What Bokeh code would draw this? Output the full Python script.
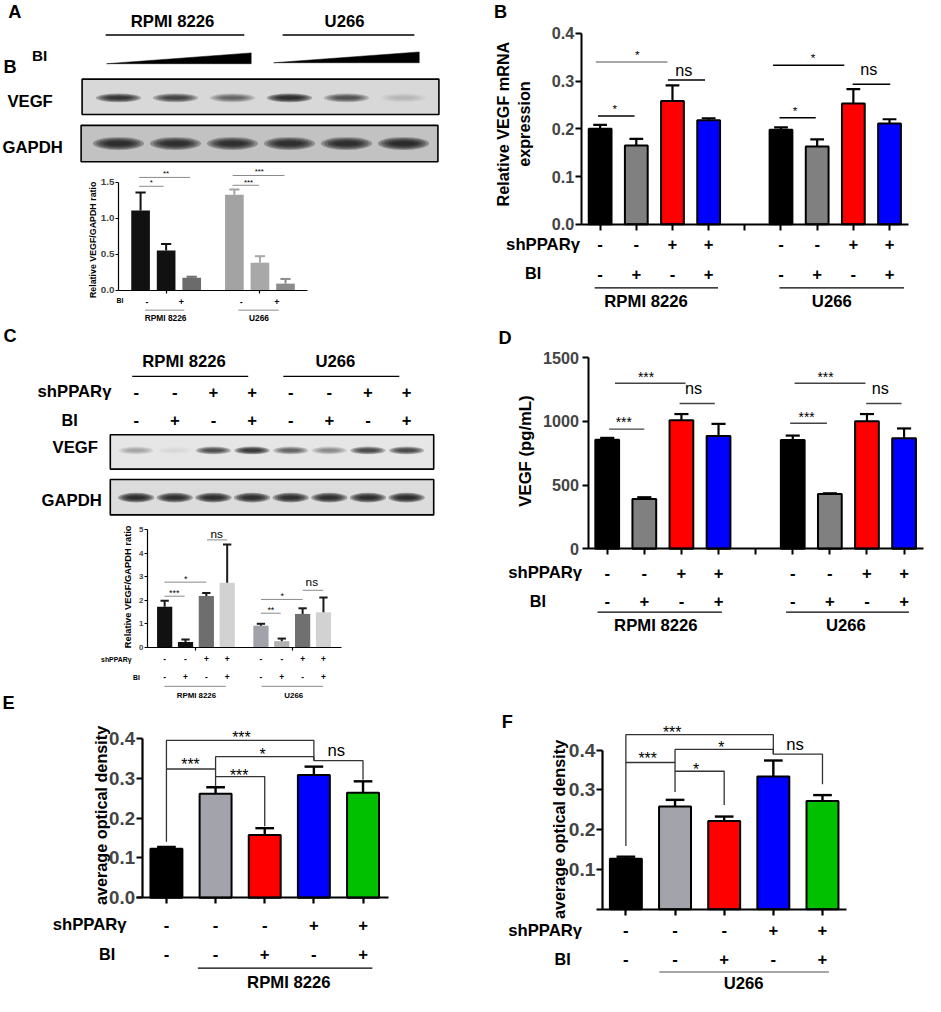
import math
from bokeh.plotting import figure
from bokeh.models import Range1d, LinearAxis, FixedTicker, PrintfTickFormatter
from bokeh.core.properties import value
from bokeh.embed import file_html
from bokeh.resources import INLINE

# ---------------- data ----------------
cell_lines = ["RPMI 8226", "U266"]

# Panel A: western blot band intensities (0 none .. 1 saturated), BI dose increasing
A_vegf_band = [0.85, 0.72, 0.45, 0.95, 0.60, 0.10]
A_gapdh_band = [0.92, 0.90, 0.88, 0.90, 0.90, 0.95]
# Panel A: densitometry VEGF/GAPDH
A_ratio_mean = [1.11, 0.555, 0.177, 1.33, 0.386, 0.095]
A_ratio_sd = [0.25, 0.09, 0.013, 0.07, 0.09, 0.065]
A_bi_signs = ["-", "+", "-", "+"]

# Conditions for panels B, C, D (per cell line)
sh_signs = ["-", "-", "+", "+"]
bi_signs = ["-", "+", "-", "+"]

# Panel B: relative VEGF mRNA
B_mrna_mean = [0.200, 0.165, 0.258, 0.218, 0.198, 0.163, 0.253, 0.211]
B_mrna_sd = [0.008, 0.014, 0.033, 0.004, 0.005, 0.015, 0.030, 0.009]

# Panel C: blot band intensities and densitometry
C_vegf_band = [0.20, 0.04, 0.65, 0.85, 0.50, 0.30, 0.70, 0.70]
C_gapdh_band = [0.95, 0.92, 0.95, 0.92, 0.92, 0.92, 0.95, 0.95]
C_ratio_mean = [1.72, 0.21, 2.17, 2.74, 0.91, 0.25, 1.41, 1.48]
C_ratio_sd = [0.25, 0.11, 0.13, 1.63, 0.08, 0.11, 0.24, 0.63]

# Panel D: VEGF ELISA (pg/mL)
D_elisa_mean = [856, 391, 1008, 885, 854, 430, 1001, 867]
D_elisa_sd = [14, 13, 49, 95, 34, 5, 56, 77]

# Panels E, F: average optical density
EF_sh_signs = ["-", "-", "-", "+", "+"]
EF_bi_signs = ["-", "-", "+", "-", "+"]
E_od_mean = [0.123, 0.262, 0.158, 0.309, 0.264]
E_od_sd = [0.005, 0.016, 0.017, 0.021, 0.029]
F_od_mean = [0.127, 0.258, 0.222, 0.334, 0.272]
F_od_sd = [0.005, 0.017, 0.011, 0.040, 0.015]

# significance annotations: (x_from, x_to, y) in chart units
B_sig = [(-0.12, 1.86, 0.340, "#888888"), (1.875, 2.9, 0.302, "black"), (-0.06, 0.95, 0.227, "black"),
         (4.78, 6.75, 0.333, "black"), (6.98, 8.02, 0.293, "black"), (4.96, 5.96, 0.223, "black")]
D_sig = [(0.21, 2.11, 1299), (1.95, 2.9, 1140), (0.05, 1.0, 939),
         (5.05, 6.96, 1299), (6.98, 7.93, 1140), (4.93, 5.92, 985)]
A_sig = [(-0.06, 0.9, 1.446), (-0.06, 1.94, 1.569), (3.6, 4.63, 1.46), (3.6, 5.63, 1.596)]
C_sig = [(-0.01, 0.96, 2.166), (-0.01, 2.0, 2.765), (2.03, 3.0, 4.566),
         (4.62, 5.57, 1.441), (4.62, 6.62, 2.028), (6.62, 7.61, 2.417)]
# brackets: (bar_i, bar_j, y_top, y_left_end, y_right_end)
E_br = [(0, 3, 0.396, 0.141, 0.345), (1, 3, 0.355, 0.281, 0.345), (0, 1, 0.324, 0.324, 0.324),
        (1, 2, 0.305, 0.305, 0.180), (3, 4, 0.345, 0.345, 0.297)]
F_br = [(0, 3, 0.439, 0.159, 0.390), (1, 3, 0.402, 0.295, 0.390), (0, 1, 0.369, 0.369, 0.369),
        (1, 2, 0.347, 0.347, 0.262), (3, 4, 0.390, 0.390, 0.314)]

# ---------------- layout ----------------
S = 925 / 941
W, H = 925, 995
W_REF, H_REF = W / S, H / S
FONT = "Liberation Sans"

CH = {
    "a": dict(px0=142.5, kx=26.0, py0=295.0, ky=73.3),
    "b": dict(px0=610.0, kx=36.8, py0=227.7, ky=486.0),
    "c": dict(px0=167.0, kx=21.2, py0=657.7, ky=23.87),
    "d": dict(px0=617.2, kx=37.75, py0=557.7, ky=0.1296),
    "e": dict(px0=168.8, kx=50.0, py0=912.7, ky=404.0),
    "f": dict(px0=636.2, kx=50.0, py0=924.4, ky=404.4),
}
YLOC = {"a": 120.0, "b": 590.7, "c": 149.3, "d": 597.7, "e": 144.0, "f": 612.3}


def sx(ch, px):
    return (px - CH[ch]["px0"]) / CH[ch]["kx"]


extra_x, extra_y = {}, {}
for k, c in CH.items():
    extra_x[k + "x"] = Range1d((0 - c["px0"]) / c["kx"], (W_REF - c["px0"]) / c["kx"])
    extra_y[k + "y"] = Range1d((c["py0"] - H_REF) / c["ky"], c["py0"] / c["ky"])

p = figure(width=W, height=H, x_range=Range1d(0, W_REF), y_range=Range1d(H_REF, 0),
           x_axis_type=None, y_axis_type=None, toolbar_location=None, output_backend="svg",
           min_border=0, outline_line_color=None, extra_x_ranges=extra_x, extra_y_ranges=extra_y)
p.background_fill_color = "white"
p.border_fill_color = "white"


def T(x, y, s, size, bold=True, align="center", angle=0.0, color="black", xr="default", kind="cap"):
    xs = list(x) if isinstance(x, (list, tuple)) else [x]
    ys = list(y) if isinstance(y, (list, tuple)) else [y] * len(xs)
    ss = list(s) if isinstance(s, (list, tuple)) else [s] * len(xs)
    adj = {"cap": 0.0, "star": 0.22, "ns": -0.07}[kind]
    ys = [v + adj * size for v in ys]
    p.text(x=xs, y=ys, text=ss, text_font=value(FONT), text_font_size=value(f"{size * S:.2f}px"),
           text_font_style="bold" if bold else "normal", text_align=align, text_baseline="middle",
           angle=angle, text_color=color, x_range_name=xr)


def blot(box, lanes, y, intens, bw, bh, fill):
    l, r, t, b = box
    p.quad(left=[l], right=[r], top=[t], bottom=[b], fill_color=fill, line_color="black", line_width=1.6)
    for k in range(5):
        p.ellipse(x=lanes, y=[y] * len(lanes), width=bw * (1 - 0.13 * k), height=bh * (1 - 0.17 * k),
                  fill_color="#141414", fill_alpha=[0.34 * v for v in intens], line_color=None)


def bars(ch, xs, means, sds, colors, width, outline, lw, err_color, cap, err_lw):
    xr, yr = ch + "x", ch + "y"
    p.vbar(x=xs, top=means, bottom=0, width=width, fill_color=colors, line_color=outline,
           line_width=lw, x_range_name=xr, y_range_name=yr)
    tops = [m + s for m, s in zip(means, sds)]
    p.segment(x0=xs, y0=means, x1=xs, y1=tops, line_color=err_color, line_width=err_lw,
              x_range_name=xr, y_range_name=yr)
    p.segment(x0=[x - cap for x in xs], y0=tops, x1=[x + cap for x in xs], y1=tops,
              line_color=err_color, line_width=err_lw, x_range_name=xr, y_range_name=yr)


def axes(ch, ytop, yticks, fmt, xb, xticks, fs, lw, tick, standoff):
    xr, yr = ch + "x", ch + "y"
    common = dict(x_range_name=xr, y_range_name=yr, axis_line_width=lw, major_tick_line_width=lw,
                  major_tick_out=int(round(tick)), major_tick_in=0, minor_tick_out=0, minor_tick_in=0,
                  axis_line_color="black", major_tick_line_color="black")
    ya = LinearAxis(fixed_location=sx(ch, YLOC[ch]),
                    bounds=(0, ytop), ticker=FixedTicker(ticks=yticks, minor_ticks=[]),
                    formatter=PrintfTickFormatter(format=fmt), major_label_text_font=FONT,
                    major_label_text_font_style="bold", major_label_text_font_size=f"{fs * S:.2f}px",
                    major_label_standoff=int(standoff), **common)
    p.add_layout(ya, "left")
    xa = LinearAxis(fixed_location=0, bounds=(sx(ch, xb[0]), sx(ch, xb[1])),
                    ticker=FixedTicker(ticks=xticks, minor_ticks=[]),
                    major_label_text_color=None, **common)
    p.add_layout(xa, "below")


def sig_lines(ch, specs, color, lw):
    xr, yr = ch + "x", ch + "y"
    p.segment(x0=[s[0] for s in specs], y0=[s[2] for s in specs], x1=[s[1] for s in specs],
              y1=[s[2] for s in specs], line_color=color, line_width=lw, x_range_name=xr, y_range_name=yr)


def brackets(ch, specs, color, lw):
    xr, yr = ch + "x", ch + "y"
    xs = [[i, i, j, j] for i, j, _, _, _ in specs]
    ys = [[yl, yt, yt, yr_] for _, _, yt, yl, yr_ in specs]
    p.multi_line(xs=xs, ys=ys, line_color=color, line_width=lw, x_range_name=xr, y_range_name=yr)


def under(xr, segs, y, color, lw):
    p.segment(x0=[a for a, b in segs], y0=[y] * len(segs), x1=[b for a, b in segs], y1=[y] * len(segs),
              line_color=color, line_width=lw, x_range_name=xr)


# ======== Panel A (blot) ========
T(8, 11.5, "A", 18.5, align="left")
T([175, 350], 21, cell_lines, 17)
p.segment(x0=[107, 287], y0=[35, 35], x1=[248, 421], y1=[35, 35], line_color="black", line_width=1.5)
T(32, 56, "BI", 15.5, align="left")
T(3, 67.5, "B", 18.5, align="left")
p.patches(xs=[[108, 255, 255], [278, 426, 426]], ys=[[64.3, 53.3, 64.3], [63.3, 52.3, 63.3]],
          fill_color="black", line_color="black", line_width=0.5)
T(7, 102.5, "VEGF", 17, align="left")
T(2, 150, "GAPDH", 17, align="left")
laneA = [120 + 58 * i for i in range(6)]
blot((83, 446, 80, 116), laneA, 99, A_vegf_band, 46, 9, "#d8d8d8")
blot((82, 445, 127, 164), laneA, 145.5, A_gapdh_band, 52, 13, "#c2c2c2")

# ======== Panel A (densitometry) ========
xa_pos = [g * 3.67 + i for g in range(2) for i in range(3)]
colA = ["#111111", "#111111", "#6b6b6b", "#a3a3a3", "#a8a8a8", "#8c8c8c"]
bars("a", xa_pos, A_ratio_mean, A_ratio_sd, colA, 0.73, None, 0, colA, 0.2, 2)
axes("a", 1.5, [0, 0.5, 1.0, 1.5], "%.1f", (120, 312), [1.0, 4.67], 10, 1.2, 3, 1)
sig_lines("a", A_sig, "#8a8a8a", 1)
T([153.3, 168.3, 252.3, 263.3], [183.3, 174, 183.3, 172.7], ["*", "**", "***", "***"], 8, bold=False, kind="star")
T(94, 243.5, "Relative VEGF/GAPDH ratio", 9, angle=math.pi / 2)
T(121.5, 305, "BI", 7)
T([149, 184, 245, 281], 307, A_bi_signs, 9)
under("default", [(147, 187), (242, 283)], 315, "#8a8a8a", 1)
T([168, 263], 323.5, cell_lines, 8.5)

# ======== Panel B ========
T(502, 11.5, "B", 18.5, align="left")
xb_pos = [g * 5 + i for g in range(2) for i in range(4)]
colB = ["#000000", "#808080", "#ff0000", "#0000ff"] * 2
bars("b", xb_pos, B_mrna_mean, B_mrna_sd, colB, 0.63, "black", 2, "black", 0.19, 2.2)
axes("b", 0.4, [0, 0.1, 0.2, 0.3, 0.4], "%.1f", (590.7, 924), list(range(9)), 16.5, 2, 5.5, 1)
for x0, x1, yv, colr in B_sig:
    sig_lines("b", [(x0, x1, yv)], colr, 1.5)
T([647.7, 625, 826.7, 808.3], [53, 108, 56, 110], "*", 12, bold=False, kind="star")
T([695, 883.3], [71.7, 71.3], "ns", 16.5, bold=False, kind="ns")
T(511.3, 125.7, "Relative VEGF mRNA", 16.5, angle=math.pi / 2)
T(533, 125.7, "expression", 16.5, angle=math.pi / 2)
T(589.5, 248, "shPPARγ", 17, align="right")
T(xb_pos, 248, sh_signs * 2, 17, xr="bx")
T(550, 277.7, "BI", 16.5, align="right")
T(xb_pos, 278, bi_signs * 2, 17, xr="bx")
under("bx", [(-0.15, 3.26), (4.96, 8.4)], 292.3, "black", 1.3)
T([sx("b", 656.7), sx("b", 845.7)], 306.7, cell_lines, 17, xr="bx")

# ======== Panel C (blot) ========
T(3, 341.7, "C", 18.5, align="left")
T([186.7, 340.7], 367.7, cell_lines, 17)
p.segment(x0=[134, 287.7], y0=[382.3, 382.3], x1=[252, 405.7], y1=[382.3, 382.3], line_color="black", line_width=1.3)
laneC = [138 + 39.3 * i for i in range(8)]
T(37.7, 397.7, "shPPARγ", 17, align="left")
T(laneC, 398, sh_signs * 2, 17)
T(62, 426.7, "BI", 16.5, align="left")
T(laneC, 426.7, bi_signs * 2, 17)
T(53, 455, "VEGF", 17, align="left")
T(41.7, 509, "GAPDH", 17, align="left")
blot((111.7, 440.7, 441.7, 476.7), laneC, 457.7, C_vegf_band, 36, 8, "#e6e6e6")
blot((111.7, 440.7, 487.3, 523.3), laneC, 505.7, C_gapdh_band, 37, 10, "#dcdcdc")

# ======== Panel C (densitometry) ========
xc_pos = [g * 4.62 + i for g in range(2) for i in range(4)]
colC = ["#111111", "#111111", "#6e6e6e", "#d2d2d2", "#a2a2aa", "#b2b2b2", "#707070", "#d2d2d2"]
bars("c", xc_pos, C_ratio_mean, C_ratio_sd, colC, 0.73, None, 0, "#1a1a1a", 0.2, 2)
axes("c", 5, [0, 1, 2, 3, 4, 5], "%d", (149.3, 346.7), [1.5, 6.12], 8, 1.2, 3, 1)
sig_lines("c", C_sig, "#8a8a8a", 1)
T([176.7, 188.3, 275, 286.7], [601, 586.7, 618.3, 604.3], ["***", "*", "**", "*"], 9, bold=False, kind="star")
T([220, 316.7], [544, 592.7], "ns", 12, bold=False, kind="ns")
T(130, 596.5, "Relative VEGF/GAPDH ratio", 9.5, angle=math.pi / 2)
T(133.3, 670, "shPPARγ", 7, align="right")
T(xc_pos, 670, sh_signs * 2, 8.5, xr="cx")
T(141.7, 688.3, "BI", 7, align="right")
T(xc_pos, 688.3, bi_signs * 2, 8.5, xr="cx")
under("cx", [(-0.01, 2.94), (4.65, 7.6)], 697.7, "#8a8a8a", 1)
T([199.3, 298.3], 706.7, cell_lines, 8)

# ======== Panel D ========
T(506.7, 343.3, "D", 18.5, align="left")
xd_pos = [g * 5 + i for g in range(2) for i in range(4)]
bars("d", xd_pos, D_elisa_mean, D_elisa_sd, colB, 0.64, "black", 2, "black", 0.19, 2.2)
axes("d", 1500, [0, 500, 1000, 1500], "%d", (597.7, 939), list(range(9)), 16.5, 2, 6, 3)
sig_lines("d", D_sig, "#444444", 1.3)
T([656.7, 634, 839.3, 820], [380.7, 426.7, 380.7, 420.7], "***", 14, bold=False, kind="star")
T([705, 895], 395.7, "ns", 16.5, bold=False, kind="ns")
T(534.2, 458.3, "VEGF (pg/mL)", 17, angle=math.pi / 2)
T(591.7, 582.3, "shPPARγ", 17, align="right")
T(xd_pos, 582.3, sh_signs * 2, 17, xr="dx")
T(555, 610.7, "BI", 16.5, align="right")
T(xd_pos, 610.7, bi_signs * 2, 17, xr="dx")
under("dx", [(-0.26, 3.09), (4.82, 8.13)], 622.3, "black", 1.3)
T([sx("d", 666.7), sx("d", 860)], 635.7, cell_lines, 17, xr="dx")

# ======== Panel E ========
T(2, 715, "E", 18.5, align="left")
xe_pos = list(range(5))
colE = ["#000000", "#a3a3ab", "#ff0000", "#0000ff", "#00c000"]
bars("e", xe_pos, E_od_mean, E_od_sd, colE, 0.65, "black", 2, "black", 0.19, 2.4)
axes("e", 0.4, [0, 0.1, 0.2, 0.3, 0.4], "%.1f", (138.3, 394.3), xe_pos, 19, 2.2, 6, 1)
brackets("e", E_br, "#333333", 1.3)
T([245, 266.7, 193.3, 242.7], [746.7, 764, 773.3, 785], ["***", "*", "***", "***"], 16, bold=False, kind="star")
T(341.7, 764, "ns", 17, bold=False, kind="ns")
T(102, 829, "average optical density", 16.5, angle=math.pi / 2)
T(128.3, 940, "shPPARγ", 17, align="right")
T(xe_pos, 940, EF_sh_signs, 17, xr="ex")
T(116.7, 970, "BI", 16.5, align="right")
T(xe_pos, 970, EF_bi_signs, 17, xr="ex")
under("ex", [(0.64, 4.19)], 984.3, "black", 1.3)
T(sx("e", 293.3), 998.5, cell_lines[0], 17, xr="ex")

# ======== Panel F ========
T(510, 734, "F", 18.5, align="left")
xf_pos = list(range(5))
bars("f", xf_pos, F_od_mean, F_od_sd, colE, 0.65, "black", 2, "black", 0.19, 2.4)
axes("f", 0.4, [0.1, 0.2, 0.3, 0.4], "%.1f", (606.7, 860.7), xf_pos, 19.5, 2.2, 6, 1)
brackets("f", F_br, "#333333", 1.3)
T([683.3, 733.3, 658.3, 707.7], [740.7, 756.7, 767.3, 778.3], ["***", "*", "***", "*"], 16, bold=False, kind="star")
T(808.3, 757.7, "ns", 17, bold=False, kind="ns")
T(568.3, 843.3, "average optical density", 16.5, angle=math.pi / 2)
T(591.7, 946, "shPPARγ", 17, align="right")
T(xf_pos, 946, EF_sh_signs, 17, xr="fx")
T(580, 975, "BI", 16.5, align="right")
T(xf_pos, 975, EF_bi_signs, 17, xr="fx")
under("fx", [(0.68, 4.13)], 988.3, "#888888", 1.3)
T(sx("f", 756), 1000.5, cell_lines[1], 17, xr="fx")

open("out.html", "w").write(file_html(p, INLINE))
